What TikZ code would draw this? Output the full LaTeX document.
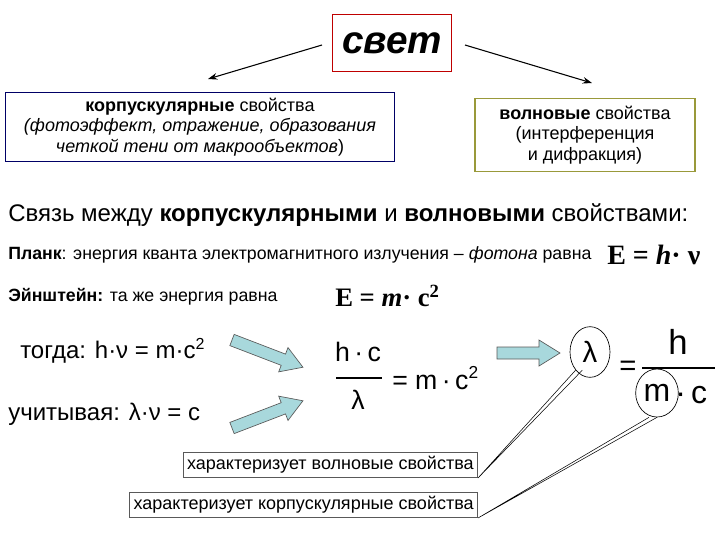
\documentclass[tikz,border=0pt]{standalone}
\usepackage{fontspec}
\setmainfont{Liberation Sans}
\newfontfamily\tms{Liberation Serif}
\usetikzlibrary{arrows.meta,shapes.geometric}
\definecolor{arrowfill}{HTML}{A8D8DC}
\definecolor{olive}{HTML}{99993A}
\tikzset{
  thin arr/.style={-{Stealth[length=7pt,width=5pt]},line width=0.8pt},
  fat arr/.style={draw=gray!70!black,fill=arrowfill,line width=0.5pt},
  callout/.style={draw=gray!70!black,line width=0.5pt,inner sep=3pt,font=\fontsize{13.5}{15}\selectfont},
  txt/.style={inner sep=0pt,anchor=west},
  circ/.style={ellipse,draw,line width=0.5pt,inner sep=0pt}
}
\begin{document}
\begin{tikzpicture}[x=0.75pt,y=-0.75pt]
\useasboundingbox (0,0) rectangle (720,540);
\node[draw=red!75!black,line width=1pt,minimum width=89pt,minimum height=43pt] (svet) at (392,43)
  {\fontsize{29}{30}\selectfont\bfseries\itshape свет};
\node[draw=blue!40!black,line width=1.2pt,minimum width=292pt,minimum height=52pt,align=center,font=\fontsize{13.5}{15.5}\selectfont] (left) at (200,127)
  {\textbf{корпускулярные} свойства\\\textit{(фотоэффект, отражение, образования}\\\textit{четкой тени от макрообъектов})};
\node[draw=olive,line width=1.2pt,minimum width=165pt,minimum height=55pt,align=center,font=\fontsize{13.5}{15.5}\selectfont] (right) at (585,135)
  {\textbf{волновые} свойства\\(интерференция\\и дифракция)};
\coordinate (a1s) at (322,45); \coordinate (a1e) at (208,79);
\coordinate (a2s) at (465,45); \coordinate (a2e) at (592,83);
\draw[thin arr] (a1s) -- (a1e);
\draw[thin arr] (a2s) -- (a2e);
\node[txt,font=\fontsize{18}{20}\selectfont] (link) at (8,215) {Связь между \textbf{корпускулярными} и \textbf{волновыми} свойствами:};
\node[txt,font=\fontsize{13.3}{14}\selectfont] (planck) at (8,255) {\textbf{Планк}: энергия кванта электромагнитного излучения – \textit{фотона} равна};
\node[txt,font=\fontsize{21}{23}\selectfont\tms\bfseries] (eh) at (607,255) {E = \textit{h}· ν};
\node[txt,font=\fontsize{13.3}{15}\selectfont] (ein) at (8,297) {\textbf{Эйнштейн:} та же энергия равна};
\node[txt,font=\fontsize{20}{22}\selectfont\tms\bfseries] (emc) at (335,296) {E = \textit{m}· c\raisebox{0.7ex}{\fontsize{14}{14}\selectfont 2}};
\node[txt,font=\fontsize{18}{20}\selectfont] (togda) at (20,351) {тогда: h·ν = m·c\raisebox{0.7ex}{\fontsize{12}{12}\selectfont 2}};
\node[txt,font=\fontsize{18}{20}\selectfont] (uch) at (8,414) {учитывая: λ·ν = c};
% fat arrows
\draw[fat arr,shift={(232,340)},rotate=-21] (0,-6) -- (55,-6) -- (55,-13) -- (76,0) -- (55,13) -- (55,6) -- (0,6) -- cycle;
\draw[fat arr,shift={(232,428)},rotate=21] (0,-6) -- (55,-6) -- (55,-13) -- (76,0) -- (55,13) -- (55,6) -- (0,6) -- cycle;
\draw[fat arr,shift={(497,353)}] (0,-6) -- (42,-6) -- (42,-13) -- (63,0) -- (42,13) -- (42,6) -- (0,6) -- cycle;
% central formula
\node[inner sep=0pt,font=\fontsize{20}{22}\selectfont] (hc) at (358,352) {h\,·\,c};
\draw[line width=1pt] (336,378) -- (382,378);
\node[inner sep=0pt,font=\fontsize{20}{22}\selectfont] (lm) at (358,400) {λ};
\node[txt,font=\fontsize{20}{22}\selectfont] (mc2) at (392,378) {= m\,·\,c\raisebox{0.8ex}{\fontsize{13}{13}\selectfont 2}};
% right formula
\node[circ,minimum width=30pt,minimum height=38pt,font=\fontsize{22}{24}\selectfont] (lam) at (590,352) {λ};
\node[inner sep=0pt,font=\fontsize{22}{24}\selectfont] (eq) at (628,368) {=};
\node[inner sep=0pt,font=\fontsize{26}{28}\selectfont] (h) at (678,342) {h};
\draw[line width=1pt] (642,368) -- (715,368);
\node[circ,minimum width=32pt,minimum height=36pt,font=\fontsize{24}{26}\selectfont] (m) at (657,393) {m};
\node[txt,font=\fontsize{24}{26}\selectfont] (cc) at (675,395) {·\,c};
% callouts
\node[callout,anchor=south east] (wave) at (478,478) {характеризует волновые свойства};
\node[callout,anchor=south east] (corp) at (478,518) {характеризует корпускулярные свойства};
\draw[line width=0.4pt] (wave.south east) -- (lam.south west) (wave.south east) -- ([xshift=5pt]lam.south west);
\draw[line width=0.4pt] (corp.south east) -- (m.south) (corp.south east) -- ([xshift=-6pt]m.south);
\end{tikzpicture}
\end{document}
